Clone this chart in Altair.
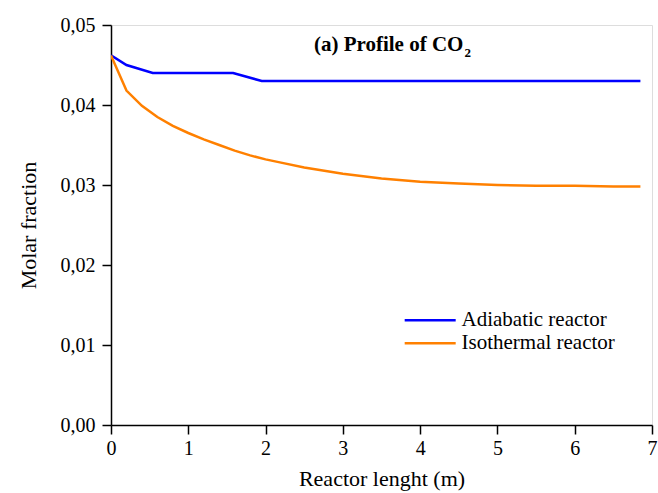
import altair as alt
import pandas as pd

adiabatic_x = [0.0, 0.2, 0.54, 1.58, 1.95, 6.85]
adiabatic_y = [0.0462, 0.0450, 0.0440, 0.0440, 0.0430, 0.0430]

isothermal_x = [0.0, 0.2, 0.4, 0.6, 0.8, 1.0, 1.2, 1.4, 1.6, 1.8, 2.0, 2.2, 2.5,
                3.0, 3.5, 4.0, 4.5, 5.0, 5.5, 6.0, 6.5, 6.85]
isothermal_y = [0.0462, 0.0418, 0.0399, 0.0385, 0.0374, 0.0365, 0.0357, 0.0350,
                0.0343, 0.0337, 0.0332, 0.0328, 0.0322, 0.0314, 0.0308, 0.0304,
                0.0302, 0.0300, 0.0299, 0.0299, 0.0298, 0.0298]

series_names = ["Adiabatic reactor", "Isothermal reactor"]
series_colors = ["#0000FF", "#FF8000"]

rows = []
for x, y in zip(adiabatic_x, adiabatic_y):
    rows.append({"x": x, "y": y, "series": series_names[0]})
for x, y in zip(isothermal_x, isothermal_y):
    rows.append({"x": x, "y": y, "series": series_names[1]})
df = pd.DataFrame(rows)

FONT = "Liberation Serif"
TICK_FS = 20
TITLE_FS = 22
LEG_FS = 21

xscale = alt.Scale(domain=[0, 7], nice=False, zero=False)
yscale = alt.Scale(domain=[0, 0.05], nice=False)
cscale = alt.Scale(domain=series_names, range=series_colors)

lines = alt.Chart(df).mark_line(strokeWidth=2.5, clip=True).encode(
    x=alt.X("x:Q", scale=xscale,
            axis=alt.Axis(title="Reactor lenght (m)", values=list(range(0, 8)),
                          format="d", grid=False, domainColor="black",
                          tickColor="black", tickSize=9, labelFontSize=TICK_FS,
                          labelFont=FONT, labelColor="black", titleFont=FONT,
                          titleFontSize=TITLE_FS, titleFontWeight="normal",
                          titleColor="black", titlePadding=10, labelPadding=4,
                          labelFlush=False,
                          domainWidth=1.5, tickWidth=1.5)),
    y=alt.Y("y:Q", scale=yscale,
            axis=alt.Axis(title="Molar fraction", values=[0, 0.01, 0.02, 0.03, 0.04, 0.05],
                          labelExpr="replace(format(datum.value, '.2f'), '.', ',')",
                          grid=False, domainColor="black", tickColor="black",
                          tickSize=9, labelFontSize=TICK_FS, labelFont=FONT,
                          labelColor="black", titleFont=FONT, titleFontSize=TITLE_FS,
                          titleFontWeight="normal", titleColor="black",
                          titlePadding=20, labelPadding=7, labelFlush=False,
                          domainWidth=1.5, tickWidth=1.5)),
    color=alt.Color("series:N", scale=cscale, legend=None),
)

# manual legend
legend_df = pd.DataFrame({
    "x": [3.80, 3.80], "x2": [4.46, 4.46], "tx": [4.535, 4.535],
    "y": [0.01310, 0.01022], "series": series_names,
})
leg_rules = alt.Chart(legend_df).mark_rule(strokeWidth=2.5).encode(
    x=alt.X("x:Q", scale=xscale), x2="x2:Q",
    y=alt.Y("y:Q", scale=yscale),
    color=alt.Color("series:N", scale=cscale, legend=None),
)
leg_text = alt.Chart(legend_df).mark_text(font=FONT, fontSize=LEG_FS, align="left",
                                          baseline="middle", color="black").encode(
    x=alt.X("tx:Q", scale=xscale), y=alt.Y("y:Q", scale=yscale), text="series:N")

title_main = pd.DataFrame({"x": [4.56], "y": [0.04676], "t": ["(a) Profile of CO"]})
title_sub = pd.DataFrame({"x": [4.575], "y": [0.04600], "t": ["2"]})

t1 = alt.Chart(title_main).mark_text(font=FONT, fontSize=21, fontWeight="bold",
                                     align="right", baseline="alphabetic",
                                     color="black").encode(
    x=alt.X("x:Q", scale=xscale), y=alt.Y("y:Q", scale=yscale), text="t:N")
t2 = alt.Chart(title_sub).mark_text(font=FONT, fontSize=13, fontWeight="bold",
                                    align="left", baseline="alphabetic",
                                    color="black").encode(
    x=alt.X("x:Q", scale=xscale), y=alt.Y("y:Q", scale=yscale), text="t:N")

chart = alt.layer(lines, leg_rules, leg_text, t1, t2).properties(
    width=541, height=400,
    autosize=alt.AutoSizeParams(type="none"),
    padding={"left": 111, "top": 25, "right": 6, "bottom": 68},
).configure_view(stroke="black", strokeWidth=1.5).configure(background="white")

chart.save("out.html", embed_options={"renderer": "svg", "actions": False})
